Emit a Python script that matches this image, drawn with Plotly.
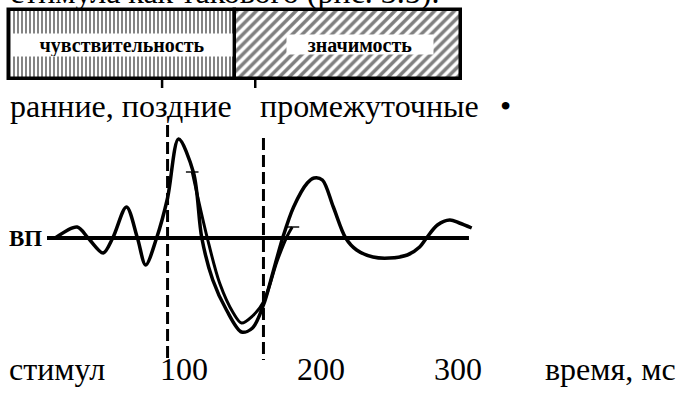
import plotly.graph_objects as go

# ---------------- data ----------------
# Evoked potential (ВП): time after stimulus, ms  /  amplitude, arbitrary units
vp_time = [6, 22, 30, 41, 48, 58, 66, 72, 80, 88, 96, 107, 113, 121, 131, 142, 150,
           158, 165, 172, 180, 190, 195, 201, 209, 218, 226, 238, 250, 263, 272, 277,
           285, 294, 301, 310]
vp_amp = [0, 1.1, 0, -1.5, 0, 3.1, 0, -2.7, 0, 4.0, 9.9, 6.5, 0, -4.2, -7.2, -9.4, -9.0,
          -6.7, -3.4, 0, 3.1, 5.5, 6.0, 5.8, 3.1, 0, -1.2, -1.9, -2.0, -1.7, -0.9, 0,
          1.3, 1.8, 1.5, 1.0]

# second (shifted) trace of the negative wave
vp2_time = [106, 117, 126, 136, 142, 150, 158, 168, 175, 179]
vp2_amp = [6.6, 0, -4.5, -7.5, -8.5, -7.8, -6.4, -2.3, 0.1, 1.1]

baseline_time = [0, 308]          # zero line of the ВП
boundary_time = [88, 158]         # dashed boundaries, ms
banner_tick_time = [84, 152]      # small marks under the banner, ms

banner_labels = ["чувствительность", "значимость"]
banner_start = [-28, 137]
banner_end = [137, 302]

tick_vals = [100, 200, 300]
tick_text = ["100", "200", "300"]
component_labels = ["ранние, поздние", "промежуточные", "•"]

# ---------------- layout constants ----------------
W, H = 679, 395
X0_PX, PX_PER_MS = 47, 1.37
BASE_PX, PX_PER_UNIT = 238, 10.0
x_range = [-X0_PX / PX_PER_MS, (W - X0_PX) / PX_PER_MS]
y_range = [(BASE_PX - H) / PX_PER_UNIT, BASE_PX / PX_PER_UNIT]

BANNER_Y = (BASE_PX - 44.5) / PX_PER_UNIT
BANNER_H = 69 / PX_PER_UNIT
SERIF = "Liberation Serif, Times New Roman, serif"
BODY = 32


def py(pixel_y):
    return 1 - pixel_y / H


def px(pixel_x):
    return pixel_x / W


fig = go.Figure()

# banner (sensitivity / significance)
fig.add_trace(go.Bar(
    orientation="h",
    y=[BANNER_Y] * len(banner_labels),
    base=banner_start,
    x=[e - s for s, e in zip(banner_start, banner_end)],
    width=BANNER_H,
    marker=dict(
        color="white",
        line=dict(color="black", width=3.5),
        pattern=dict(shape=["|", "/"], size=[4, 7], solidity=[0.48, 0.5],
                     fgcolor="black", bgcolor="white"),
    ),
    hoverinfo="skip",
))

# small marks under the banner
for t in banner_tick_time:
    fig.add_trace(go.Scatter(x=[t, t], y=[15.9, 15.0], mode="lines",
                             line=dict(color="black", width=2.5), hoverinfo="skip"))

# dashed boundaries
for t, top in zip(boundary_time, [11.3, 10.0]):
    fig.add_trace(go.Scatter(x=[t, t], y=[top, -12.2], mode="lines",
                             line=dict(color="black", width=3, dash="12px,5px"),
                             hoverinfo="skip"))

# zero line
fig.add_trace(go.Scatter(x=baseline_time, y=[0, 0], mode="lines",
                         line=dict(color="black", width=4), hoverinfo="skip"))

# ВП traces
fig.add_trace(go.Scatter(x=vp_time, y=vp_amp, mode="lines",
                         line=dict(color="black", width=3.5, shape="spline", smoothing=0.9),
                         hoverinfo="skip"))
fig.add_trace(go.Scatter(x=vp2_time, y=vp2_amp, mode="lines+markers",
                         line=dict(color="black", width=3, shape="spline", smoothing=0.9),
                         marker=dict(symbol=["line-ew"] + ["circle"] * (len(vp2_time) - 2) + ["line-ew"],
                                     size=[9] + [0] * (len(vp2_time) - 2) + [10],
                                     line=dict(color="black", width=2), color="black"),
                         hoverinfo="skip"))

ann = []
# banner labels with white boxes
ann.append(dict(x=(banner_start[0] + banner_end[0]) / 2, y=BANNER_Y, xref="x", yref="y",
                text="<b>" + banner_labels[0] + "</b>", showarrow=False,
                font=dict(family=SERIF, size=20, color="black"),
                bgcolor="white", width=220, height=22, borderpad=0))
ann.append(dict(x=(banner_start[1] + banner_end[1]) / 2, y=BANNER_Y, xref="x", yref="y",
                xshift=12, text="<b>" + banner_labels[1] + "</b>", showarrow=False,
                font=dict(family=SERIF, size=20, color="black"),
                bgcolor="white", width=146, height=19, borderpad=0))

# cut-off line of body text at the very top
ann.append(dict(x=px(8), y=py(-8), xref="paper", yref="paper", xanchor="left", yanchor="middle",
                text="стимула как такового (рис. 3.5).", showarrow=False,
                font=dict(family=SERIF, size=BODY, color="black")))

# component labels
for lab, xp, anchor in zip(component_labels, [8, 258, 505], ["left", "left", "center"]):
    ann.append(dict(x=px(xp), y=py(106), xref="paper", yref="paper", xanchor=anchor,
                    yanchor="middle", text=lab, showarrow=False,
                    font=dict(family=SERIF, size=BODY, color="black")))

# ВП label
ann.append(dict(x=px(7), y=0, xref="paper", yref="y", xanchor="left", yanchor="middle",
                text="<b>ВП</b>", showarrow=False,
                font=dict(family=SERIF, size=23, color="black")))

# time axis labels
LAB_Y = 369
ann.append(dict(x=px(7), y=py(LAB_Y), xref="paper", yref="paper", xanchor="left",
                yanchor="middle", text="стимул", showarrow=False,
                font=dict(family=SERIF, size=BODY, color="black")))
for v, tx in zip(tick_vals, tick_text):
    ann.append(dict(x=v, y=py(LAB_Y), xref="x", yref="paper", xanchor="center",
                    yanchor="middle", text=tx, showarrow=False,
                    font=dict(family=SERIF, size=BODY, color="black")))
ann.append(dict(x=px(678), y=py(LAB_Y), xref="paper", yref="paper", xanchor="right",
                yanchor="middle", text="время, мс", showarrow=False,
                font=dict(family=SERIF, size=BODY, color="black")))

fig.update_layout(
    width=W, height=H, autosize=False,
    margin=dict(l=0, r=0, t=0, b=0),
    paper_bgcolor="white", plot_bgcolor="white",
    showlegend=False, hovermode=False,
    xaxis=dict(range=x_range, visible=False, fixedrange=True),
    yaxis=dict(range=y_range, visible=False, fixedrange=True),
    annotations=ann,
    bargap=0,
)

fig.write_html("out.html", config={"displayModeBar": False})
